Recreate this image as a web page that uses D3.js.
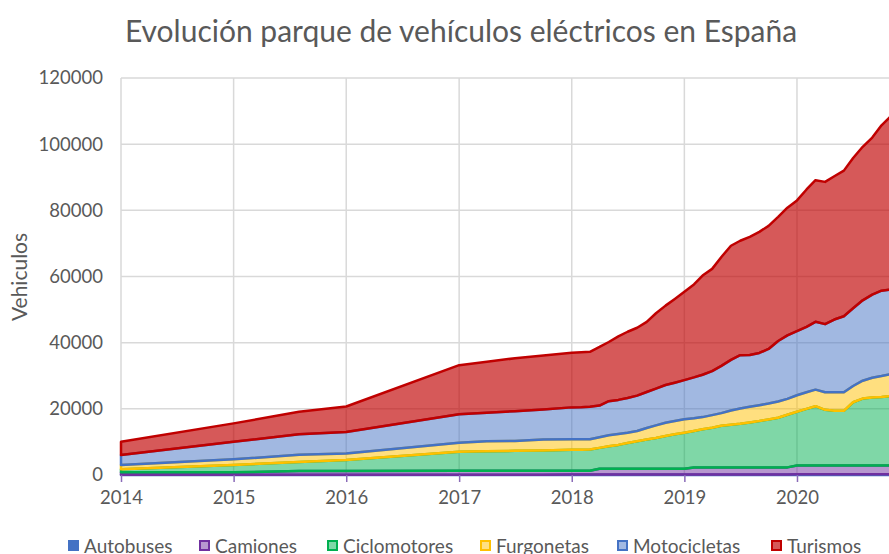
<!DOCTYPE html>
<html>
<head>
<meta charset="utf-8">
<script src="https://cdn.jsdelivr.net/npm/d3@7"></script>
<style>
  body { margin: 0; background: #fff; }
  svg { display: block; font-family: Lato, "Open Sans", sans-serif; }
</style>
</head>
<body>
<div id="chart"></div>
<script>
// fechas (mes) de cada punto
var fechas = [
  "2014-01", "2015-01", "2015-08", "2016-01", "2017-01", "2017-04", "2017-07", "2017-10",
  "2018-01", "2018-02", "2018-03", "2018-04", "2018-05", "2018-06", "2018-07", "2018-08",
  "2018-09", "2018-10", "2018-11", "2018-12", "2019-01", "2019-02", "2019-03", "2019-04",
  "2019-05", "2019-06", "2019-07", "2019-08", "2019-09", "2019-10", "2019-11", "2019-12",
  "2020-01", "2020-02", "2020-03", "2020-04", "2020-05", "2020-06", "2020-07", "2020-08",
  "2020-09", "2020-10", "2020-11"
];

var autobuses = [
  100, 100, 100, 100, 100, 100, 100, 100,
  150, 150, 150, 150, 150, 150, 150, 150,
  150, 150, 150, 150, 150, 150, 150, 150,
  150, 150, 150, 150, 150, 150, 150, 150,
  200, 200, 200, 200, 200, 200, 200, 200,
  200, 200, 200
];
var camiones = [
  700, 700, 1100, 1100, 1200, 1200, 1200, 1200,
  1150, 1150, 1150, 1750, 1750, 1750, 1750, 1750,
  1750, 1750, 1750, 1750, 1750, 2150, 2150, 2150,
  2150, 2150, 2150, 2150, 2150, 2150, 2150, 2150,
  2700, 2700, 2700, 2700, 2700, 2700, 2700, 2700,
  2700, 2700, 2700
];
var ciclomotores = [
  920, 2220, 2700, 3300, 5700, 5900, 6000, 6100,
  6300, 6350, 6400, 6300, 6800, 7200, 7800, 8300,
  8800, 9300, 9900, 10400, 10880, 11000, 11500, 12000,
  12600, 12900, 13200, 13600, 14000, 14500, 15000, 15900,
  16200, 17100, 17900, 16800, 16500, 16500, 19100, 20200,
  20500, 20700, 21000
];
var furgonetas = [
  1300, 1720, 2200, 2000, 2760, 3000, 3000, 3300,
  3180, 3130, 3080, 3200, 3300, 3300, 3100, 3100,
  3500, 3800, 4000, 4000, 4040, 3820, 3700, 3800,
  3800, 4300, 4600, 4700, 4800, 4800, 4900, 4800,
  5000, 5000, 5000, 5300, 5600, 5600, 4900, 5400,
  6000, 6300, 6600
];
var motocicletas = [
  3020, 5320, 6200, 6500, 8570, 8600, 9000, 9100,
  9660, 9720, 9850, 9600, 10300, 10300, 10500, 10700,
  10900, 11100, 11400, 11600, 11870, 12380, 12800, 13300,
  14300, 15300, 16100, 15700, 15800, 16500, 18300, 19200,
  19400, 19800, 20500, 20600, 22000, 23000, 23500, 24300,
  25100, 25800, 25600
];
var turismos = [
  4010, 5540, 6800, 7700, 14870, 15400, 16000, 16300,
  16500, 16600, 16610, 17700, 17900, 19200, 20000, 20500,
  21200, 22800, 24000, 25300, 26670, 28100, 30000, 30900,
  32900, 34500, 34600, 35700, 36600, 37200, 37500, 38600,
  39500, 41500, 42800, 43000, 43300, 44000, 45400, 46400,
  47500, 50000, 52400
];

var series = ["Autobuses", "Camiones", "Ciclomotores", "Furgonetas", "Motocicletas", "Turismos"];
var valores = [autobuses, camiones, ciclomotores, furgonetas, motocicletas, turismos];
var colorLinea = ["#4472C4", "#7030A0", "#00B050", "#FFC000", "#4472C4", "#C00000"];
var opacidad = [0.5, 0.5, 0.5, 0.5, 0.5, 0.65];
var yTicks = [0, 20000, 40000, 60000, 80000, 100000, 120000];
var anios = [2014, 2015, 2016, 2017, 2018, 2019, 2020];

// dimensiones del grafico
var width = 889, height = 554;
var m_left = 121, m_right = 121 + 7 * 112.7, m_top = 78, m_bottom = 475;

var parse = d3.timeParse("%Y-%m");
var datos = fechas.map(function (f, i) {
  var d = { fecha: parse(f) };
  series.forEach(function (s, k) { d[s] = valores[k][i]; });
  return d;
});

var svg = d3.select("#chart").append("svg")
  .attr("width", width)
  .attr("height", height);

var x = d3.scaleTime()
  .domain([new Date(2014, 0, 1), new Date(2021, 0, 1)])
  .range([m_left, m_right]);

var y = d3.scaleLinear()
  .domain([0, 120000])
  .range([m_bottom, m_top]);

// titulo
svg.append("text")
  .attr("x", 461)
  .attr("y", 42)
  .attr("text-anchor", "middle")
  .style("font-size", "30px")
  .style("fill", "#595959")
  .text("Evolución parque de vehículos eléctricos en España");

// rejilla
svg.append("g").selectAll("line")
  .data(yTicks)
  .enter().append("line")
  .attr("x1", m_left).attr("x2", width)
  .attr("y1", function (d) { return y(d); })
  .attr("y2", function (d) { return y(d); })
  .style("stroke", "#d9d9d9")
  .style("stroke-width", 1.5);

svg.append("g").selectAll("line")
  .data(anios)
  .enter().append("line")
  .attr("x1", function (d) { return x(new Date(d, 0, 1)); })
  .attr("x2", function (d) { return x(new Date(d, 0, 1)); })
  .attr("y1", m_top).attr("y2", m_bottom)
  .style("stroke", "#d9d9d9")
  .style("stroke-width", 1.5);

// areas apiladas
var stacked = d3.stack().keys(series)(datos);

var area = d3.area()
  .x(function (d) { return x(d.data.fecha); })
  .y0(function (d) { return y(d[0]); })
  .y1(function (d) { return y(d[1]); });

svg.append("g").selectAll("path")
  .data(stacked)
  .enter().append("path")
  .attr("d", area)
  .style("fill", function (d, i) { return colorLinea[i]; })
  .style("fill-opacity", function (d, i) { return opacidad[i]; })
  .style("stroke", function (d, i) { return colorLinea[i]; })
  .style("stroke-width", 2.5)
  .style("stroke-linejoin", "round");

// eje x
var xAxis = svg.append("g")
  .attr("transform", "translate(0," + m_bottom + ")")
  .call(d3.axisBottom(x)
    .tickValues(anios.map(function (a) { return new Date(a, 0, 1); }))
    .tickFormat(d3.timeFormat("%Y"))
    .tickSize(7)
    .tickPadding(9));
xAxis.select(".domain").remove();
xAxis.selectAll("line").style("stroke", "#8a6bb8").style("stroke-width", 1.5);
xAxis.selectAll("text")
  .style("font-size", "18.5px")
  .style("font-family", "Lato, sans-serif")
  .style("fill", "#595959");

// eje y
var yAxis = svg.append("g")
  .attr("transform", "translate(" + m_left + ",0)")
  .call(d3.axisLeft(y).tickValues(yTicks).tickFormat(d3.format("d")).tickSize(0).tickPadding(18));
yAxis.select(".domain").remove();
yAxis.selectAll("text")
  .style("font-size", "18.5px")
  .style("font-family", "Lato, sans-serif")
  .style("fill", "#595959");

svg.append("text")
  .attr("transform", "translate(27,277) rotate(-90)")
  .attr("text-anchor", "middle")
  .style("font-size", "21px")
  .style("fill", "#595959")
  .text("Vehiculos");

// leyenda
var legendX = [68, 199, 327, 480, 617, 771];
var leyenda = svg.append("g").selectAll("g")
  .data(series)
  .enter().append("g")
  .attr("transform", function (d, i) { return "translate(" + legendX[i] + ",540)"; });

leyenda.append("rect")
  .attr("x", 1).attr("y", 1)
  .attr("width", 9).attr("height", 9)
  .style("fill", function (d, i) { return i == 0 ? colorLinea[i] : d3.interpolateRgb(colorLinea[i], "#fff")(1 - opacidad[i]); })
  .style("stroke", function (d, i) { return colorLinea[i]; })
  .style("stroke-width", 2);

leyenda.append("text")
  .attr("x", 16)
  .attr("y", 13)
  .style("font-size", "19px")
  .style("fill", "#595959")
  .text(function (d) { return d; });
</script>
</body>
</html>
